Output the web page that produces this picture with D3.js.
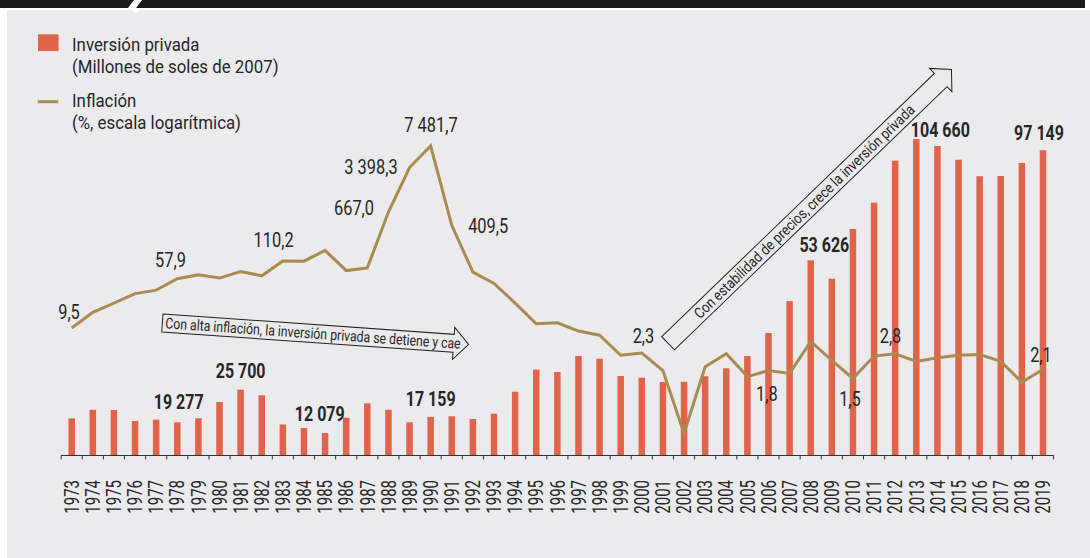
<!DOCTYPE html>
<html><head><meta charset="utf-8">
<script src="https://cdn.jsdelivr.net/npm/d3@7/dist/d3.min.js"></script>
<style>
html,body{margin:0;padding:0;background:#fff;}
svg{display:block;}
text{font-family:Roboto,"DejaVu Sans",sans-serif;fill:#262626;}
</style></head><body>
<svg id="c" width="1090" height="558"></svg>
<script>
// ---------- data ----------
const years = ["1973","1974","1975","1976","1977","1978","1979","1980","1981","1982",
  "1983","1984","1985","1986","1987","1988","1989","1990","1991","1992",
  "1993","1994","1995","1996","1997","1998","1999","2000","2001","2002",
  "2003","2004","2005","2006","2007","2008","2009","2010","2011","2012",
  "2013","2014","2015","2016","2017","2018","2019"];
// Inversión privada (millones de soles de 2007)
const investment = [16700,19400,19330,15870,16280,15460,16720,21850,25700,23960,
  14760,13660,12079,16900,21440,19430,15460,17159,17350,16500,
  18170,25090,32020,31300,36340,35490,30040,29500,28150,28240,
  29950,32460,36340,43580,53626,66480,60690,76340,84620,97850,
  104660,102480,98170,92940,93030,97149,101130];
// Inflación (%), escala logarítmica
const inflation = [9.5,16.9,23.6,33.5,38.1,57.9,66.7,59.2,75.4,64.4,
  111.1,110.2,163.4,77.9,85.8,667.0,3398.3,7481.7,409.5,73.5,
  48.6,23.7,11.1,11.5,8.5,7.3,3.5,3.8,2.0,0.2,
  2.3,3.7,1.6,2.0,1.8,5.8,2.9,1.5,3.4,3.7,
  2.8,3.2,3.5,3.6,2.8,1.3,2.1];
const barLabelYears = ["1978","1981","1985","1990","2008","2013","2019"];
const barLabelTexts = ["19 277","25 700","12 079","17 159","53 626","104 660","97 149"];
const inflLabelYears = ["1973","1978","1984","1988","1989","1990","1991","2003","2007","2010","2013","2019"];
const inflLabelTexts = ["9,5","57,9","110,2","667,0","3 398,3","7 481,7","409,5","2,3","1,8","1,5","2,8","2,1"];
const legendLabels = [["Inversión privada","(Millones de soles de 2007)"],["Inflación","(%, escala logarítmica)"]];
const arrowTexts = ["Con alta inflación, la inversión privada se detiene y cae",
  "Con estabilidad de precios, crece la inversión privada"];

// ---------- setup ----------
const BAR = "#e0644a", LINE = "#a98b50", BG = "#ebebed";
const svg = d3.select("#c");
function squeeze(sel, k){
  sel.each(function(){
    const w = this.getComputedTextLength();
    d3.select(this).attr("textLength", w*k).attr("lengthAdjust","spacingAndGlyphs");
  });
}

// frame
svg.append("rect").attr("x",0).attr("y",0).attr("width",1090).attr("height",558).attr("fill","#fff");
svg.append("rect").attr("x",7).attr("y",10).attr("width",1083).attr("height",548).attr("fill",BG);
svg.append("rect").attr("x",0).attr("y",0).attr("width",1085).attr("height",8).attr("fill","#1a1a1a");
svg.append("path").attr("d","M128,8 L134,0 L142,0 L136,8 Z").attr("fill","#fff");
svg.append("path").attr("d","M131,10 L140,10 L135.5,13 Z").attr("fill","#fff");

// scales
const x = d3.scaleBand().domain(years).range([61.15, 1053.55]).padding(0);
const cx = d => x(d) + x.bandwidth()/2;
const yBar = d3.scaleLinear().domain([5000, 110000]).range([455.5, 122.1]);
const yLog = d3.scaleLog().domain([0.1, 10000]).range([452.3, 138.1]);
const BASE = yBar(5000);

// bars
const bw = 6.5;
svg.append("g").selectAll("rect").data(years).join("rect")
  .attr("x", d => cx(d) - bw/2)
  .attr("y", (d,i) => yBar(investment[i]))
  .attr("width", bw)
  .attr("height", (d,i) => BASE - yBar(investment[i]))
  .attr("fill", BAR);

// axis
const axisG = svg.append("g");
axisG.append("line").attr("x1", x.range()[0]).attr("x2", x.range()[1])
  .attr("y1", BASE).attr("y2", BASE).attr("stroke", "#333").attr("stroke-width", 1.2);
const tickPos = years.map(d => x(d)).concat([x.range()[1]]);
axisG.selectAll("line.t").data(tickPos).join("line").attr("class","t")
  .attr("x1", d => d).attr("x2", d => d).attr("y1", BASE).attr("y2", BASE + 4)
  .attr("stroke", "#333").attr("stroke-width", 1);
const yearText = axisG.selectAll("text").data(years).join("text")
  .attr("transform", d => `translate(${cx(d)},480) rotate(-90)`)
  .attr("text-anchor","end").attr("dy","0.36em")
  .attr("font-size", 20).text(d => d);
squeeze(yearText, 0.75);

// inflation line
const line = d3.line().x((d,i) => cx(years[i])).y(d => yLog(d));
svg.append("path").datum(inflation).attr("d", line)
  .attr("fill","none").attr("stroke", LINE).attr("stroke-width", 3)
  .attr("stroke-linejoin","miter");

// inflation labels
const inflDx = [-2.7,-6.8,-30.4,-34.4,-38.6,0.3,36.4,-61.7,-22.7,-3,-25.8,-2];
const inflDy = [-9.5,-11.7,-14.2,3.5,6.5,-13.6,8.1,-23.4,27.3,27.3,-18.7,-7.5];
const il = svg.append("g").selectAll("text").data(inflLabelYears).join("text")
  .attr("x", (d,i) => cx(d) + inflDx[i])
  .attr("y", (d,i) => yLog(inflation[years.indexOf(d)]) + inflDy[i])
  .attr("text-anchor","middle").attr("font-size", 21)
  .text((d,i) => inflLabelTexts[i]);
squeeze(il, 0.78);

// bar labels
const barDx = [1.4,0,-5.3,0,13.6,24,-4];
const barDy = [-13.3,-11.4,-11.7,-11.2,-8.6,-1.7,-10.3];
const bl = svg.append("g").selectAll("text").data(barLabelYears).join("text")
  .attr("x", (d,i) => cx(d) + barDx[i])
  .attr("y", (d,i) => yBar(investment[years.indexOf(d)]) + barDy[i])
  .attr("text-anchor","middle").attr("font-size", 20.5).attr("font-weight", 700)
  .text((d,i) => barLabelTexts[i]);
squeeze(bl, 0.78);

// legend
const lg = svg.append("g");
lg.append("rect").attr("x",38).attr("y",34.3).attr("width",20.6).attr("height",16.7).attr("fill",BAR);
lg.append("line").attr("x1",37.7).attr("x2",58.3).attr("y1",101.7).attr("y2",101.7)
  .attr("stroke",LINE).attr("stroke-width",3);
const legBase = [[51,73],[107,129]];
legendLabels.forEach((pair,i) => {
  pair.forEach((t,j) => {
    const tx = lg.append("text").attr("x",72).attr("y",legBase[i][j]).attr("font-size",18.5).text(t);
    squeeze(tx, 0.91);
  });
});

// arrows
function arrow(x0, y0, ang, L, h, head, tip, text, tl, center){
  const g = svg.append("g").attr("transform", `translate(${x0},${y0}) rotate(${ang})`);
  g.append("path")
    .attr("d", `M0,0 L${L},0 L${L},${-head} L${L+tip},${h/2} L${L},${h+head} L${L},${h} L0,${h} Z`)
    .attr("fill","none").attr("stroke","#222").attr("stroke-width",1);
  g.append("text").attr("x", center ? L/2 : 3).attr("y", h/2 + 5)
    .attr("text-anchor", center ? "middle" : "start")
    .attr("font-size", 15).attr("textLength", tl).attr("lengthAdjust","spacingAndGlyphs")
    .text(text);
}
arrow(163, 314, 4, 292, 18, 7, 15, arrowTexts[0], 296, false);
arrow(661.7, 336.7, -44, 379, 18.3, 7, 15, arrowTexts[1], 300, true);
</script>
</body></html>
